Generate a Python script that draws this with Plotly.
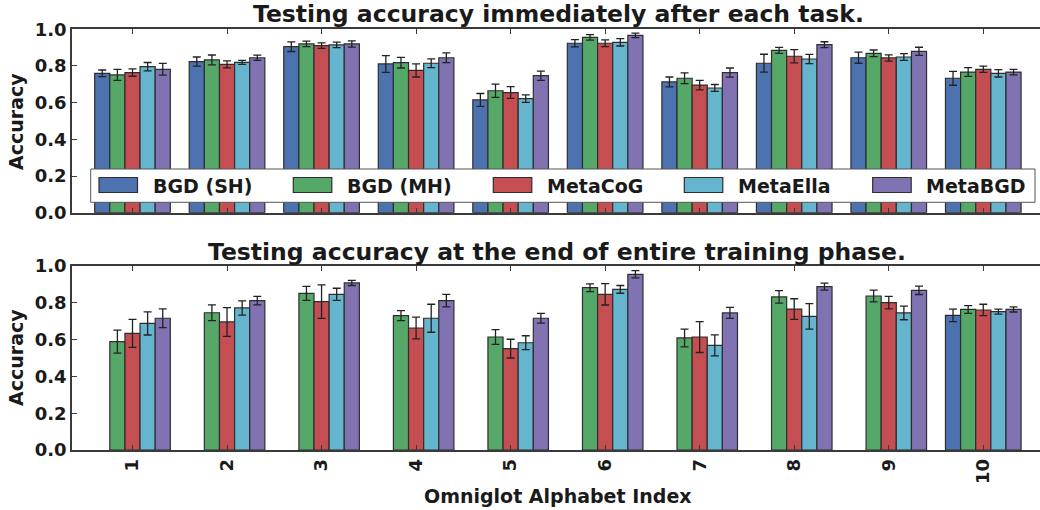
import plotly.graph_objects as go

W, H = 1040, 510

tasks = [1, 2, 3, 4, 5, 6, 7, 8, 9, 10]
tick_labels = ["1", "2", "3", "4", "5", "6", "7", "8", "9", "10"]
series_names = ["BGD (SH)", "BGD (MH)", "MetaCoG", "MetaElla", "MetaBGD"]
colors = ["#4C72B0", "#55A868", "#C44E52", "#64B5CD", "#8172B2"]

# Top panel: accuracy immediately after each task
top_sh = [0.760, 0.824, 0.905, 0.811, 0.615, 0.924, 0.713, 0.815, 0.845, 0.733]
top_sh_err = [0.018, 0.025, 0.026, 0.046, 0.035, 0.020, 0.027, 0.049, 0.030, 0.038]
top_mh = [0.751, 0.833, 0.920, 0.818, 0.665, 0.956, 0.733, 0.885, 0.869, 0.767]
top_mh_err = [0.030, 0.027, 0.015, 0.029, 0.036, 0.015, 0.029, 0.016, 0.018, 0.024]
top_cog = [0.764, 0.809, 0.911, 0.776, 0.655, 0.924, 0.696, 0.853, 0.844, 0.782]
top_cog_err = [0.020, 0.019, 0.015, 0.036, 0.032, 0.018, 0.026, 0.036, 0.017, 0.017]
top_ella = [0.796, 0.820, 0.915, 0.815, 0.622, 0.929, 0.680, 0.838, 0.849, 0.760]
top_ella_err = [0.023, 0.011, 0.015, 0.024, 0.020, 0.020, 0.019, 0.025, 0.018, 0.020]
top_bgd = [0.782, 0.845, 0.920, 0.845, 0.747, 0.967, 0.764, 0.916, 0.880, 0.767]
top_bgd_err = [0.032, 0.014, 0.017, 0.027, 0.025, 0.012, 0.025, 0.016, 0.022, 0.015]

# Bottom panel: accuracy at the end of entire training phase
bot_sh = [None, None, None, None, None, None, None, None, None, 0.732]
bot_sh_err = [None, None, None, None, None, None, None, None, None, 0.034]
bot_mh = [0.589, 0.746, 0.851, 0.730, 0.614, 0.882, 0.609, 0.832, 0.837, 0.764]
bot_mh_err = [0.063, 0.043, 0.038, 0.027, 0.040, 0.021, 0.048, 0.034, 0.032, 0.021]
bot_cog = [0.634, 0.696, 0.806, 0.663, 0.551, 0.846, 0.614, 0.766, 0.801, 0.761]
bot_cog_err = [0.076, 0.078, 0.091, 0.059, 0.051, 0.058, 0.084, 0.056, 0.034, 0.031]
bot_ella = [0.688, 0.772, 0.846, 0.716, 0.583, 0.873, 0.569, 0.726, 0.745, 0.752]
bot_ella_err = [0.063, 0.039, 0.033, 0.076, 0.038, 0.021, 0.057, 0.069, 0.037, 0.014]
bot_bgd = [0.716, 0.812, 0.908, 0.812, 0.716, 0.955, 0.745, 0.888, 0.868, 0.764]
bot_bgd_err = [0.051, 0.023, 0.014, 0.034, 0.026, 0.020, 0.030, 0.019, 0.023, 0.014]

y_ticks = [0.0, 0.2, 0.4, 0.6, 0.8, 1.0]

top_title = "Testing accuracy immediately after each task."
bot_title = "Testing accuracy at the end of entire training phase."
x_title = "Omniglot Alphabet Index"
y_title = "Accuracy"

top_vals = [top_sh, top_mh, top_cog, top_ella, top_bgd]
top_errs = [top_sh_err, top_mh_err, top_cog_err, top_ella_err, top_bgd_err]
bot_vals = [bot_sh, bot_mh, bot_cog, bot_ella, bot_bgd]
bot_errs = [bot_sh_err, bot_mh_err, bot_cog_err, bot_ella_err, bot_bgd_err]

def px(x):
    return x / W

def py(y):
    return 1 - y / H

TXT = "#1a1a1a"
AX = "#3a3a3a"
FONT = "DejaVu Sans"

fig = go.Figure()
for vals, errs, xa, ya in [(top_vals, top_errs, "x", "y"), (bot_vals, bot_errs, "x2", "y2")]:
    for name, col, v, e in zip(series_names, colors, vals, errs):
        fig.add_trace(go.Bar(
            x=tasks, y=v, name=name, xaxis=xa, yaxis=ya, showlegend=False,
            marker=dict(color=col, line=dict(color="#2e2e2e", width=1.2)),
            error_y=dict(type="data", array=e, visible=True, color="#222222",
                         thickness=1.3, width=4),
        ))

xrange = [0.36, 10.6]
xdom = [px(72), 1.0]
common_x = dict(range=xrange, domain=xdom, tickvals=tasks, ticktext=tick_labels,
                showline=True, linecolor=AX, linewidth=1.5, mirror="ticks",
                ticks="inside", ticklen=5, tickcolor=AX, tickwidth=1,
                showgrid=False, zeroline=False, automargin=False)
common_y = dict(range=[0, 1.0], tickvals=y_ticks, tickformat=".1f",
                showline=True, linecolor=AX, linewidth=1.5, mirror=False,
                ticks="inside", ticklen=5, tickcolor=AX, tickwidth=1,
                showgrid=False, zeroline=False, automargin=False,
                tickfont=dict(family=FONT, size=18, color=TXT, weight="bold"))

fig.update_layout(
    width=W, height=H,
    margin=dict(l=0, r=0, t=0, b=0),
    paper_bgcolor="white", plot_bgcolor="white",
    font=dict(family=FONT, size=18, color=TXT, weight="bold"),
    barmode="group", bargap=0.2, bargroupgap=0.0,
    xaxis=dict(common_x, anchor="y", showticklabels=False),
    yaxis=dict(common_y, anchor="x", domain=[py(212.7), py(29.3)]),
    xaxis2=dict(common_x, anchor="y2", showticklabels=True, tickangle=-90,
                tickfont=dict(family=FONT, size=18, color=TXT, weight="bold")),
    yaxis2=dict(common_y, anchor="x2", domain=[py(450), py(266)]),
)

ann = []
ann.append(dict(text=top_title, x=px(558), y=py(14), xref="paper", yref="paper",
                xanchor="center", yanchor="middle", showarrow=False,
                font=dict(family=FONT, size=23.5, color=TXT, weight="bold")))
ann.append(dict(text=bot_title, x=px(557), y=py(252), xref="paper", yref="paper",
                xanchor="center", yanchor="middle", showarrow=False,
                font=dict(family=FONT, size=23.5, color=TXT, weight="bold")))
ann.append(dict(text=x_title, x=px(558), y=py(496), xref="paper", yref="paper",
                xanchor="center", yanchor="middle", showarrow=False,
                font=dict(family=FONT, size=19, color=TXT, weight="bold")))
for yc in (122, 358):
    ann.append(dict(text=y_title, x=px(16), y=py(yc), xref="paper", yref="paper",
                    xanchor="center", yanchor="middle", textangle=-90, showarrow=False,
                    font=dict(family=FONT, size=19, color=TXT, weight="bold")))

# custom legend (matplotlib-style wide patches)
shapes = [dict(type="rect", xref="paper", yref="paper",
               x0=px(90.7), x1=px(1035), y0=py(202.3), y1=py(169),
               fillcolor="white", line=dict(color="#555555", width=1), layer="above")]
patch_x = [99, 293.3, 493.3, 684.3, 872.7]
for name, col, x0 in zip(series_names, colors, patch_x):
    shapes.append(dict(type="rect", xref="paper", yref="paper",
                       x0=px(x0), x1=px(x0 + 38.5), y0=py(192.5), y1=py(177.5),
                       fillcolor=col, line=dict(color="#2e2e2e", width=1.2), layer="above"))
    ann.append(dict(text=name, x=px(x0 + 51.5), y=py(185.5), xref="paper", yref="paper",
                    xanchor="left", yanchor="middle", showarrow=False,
                    font=dict(family=FONT, size=19, color=TXT, weight="bold")))

fig.update_layout(annotations=ann, shapes=shapes)
# remove the browser's default 8px page margin so the figure fills the window exactly
fig.write_html("out.html", config={"displayModeBar": False},
               post_script="document.body.style.margin='0';document.body.style.overflow='hidden';")
